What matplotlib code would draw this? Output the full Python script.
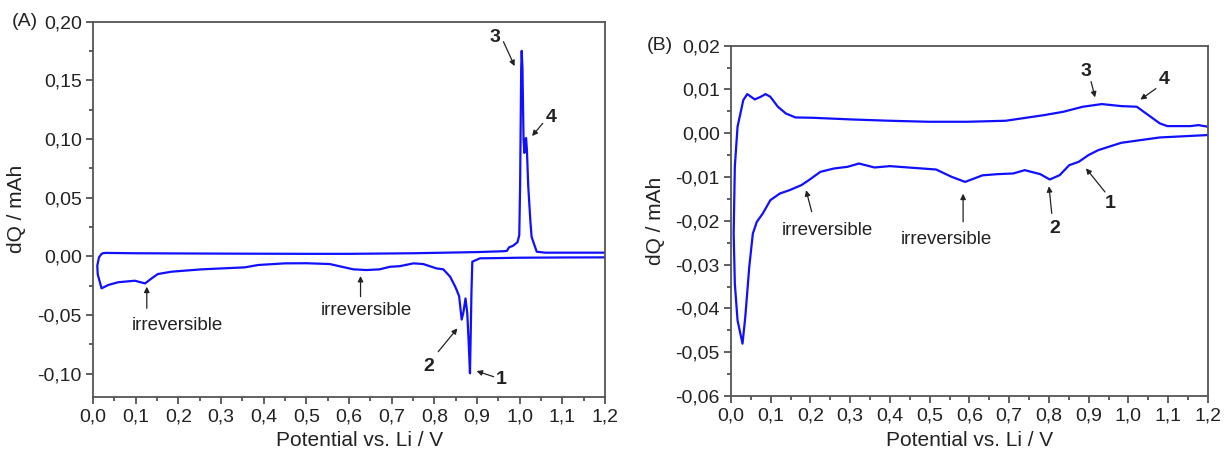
import matplotlib
matplotlib.use('Agg')
import matplotlib.pyplot as plt
from matplotlib.ticker import MultipleLocator, FuncFormatter

plt.rcParams['font.family'] = ['Liberation Sans', 'DejaVu Sans']

# panel A : discharge (1.2 V -> 0 V) then charge (0 V -> 1.2 V)
volt_a = [1.200, 1.100, 1.000, 0.950, 0.907, 0.889, 0.887, 0.8835, 0.880, 0.877, 0.873,
          0.868, 0.864, 0.858, 0.849, 0.837, 0.821, 0.805, 0.774, 0.751, 0.719, 0.696,
          0.672, 0.641, 0.610, 0.555, 0.500, 0.450, 0.387, 0.356, 0.255, 0.184, 0.152,
          0.137, 0.122, 0.098, 0.059, 0.036, 0.020, 0.011, 0.010, 0.014, 0.020, 0.024,
          0.030, 0.100, 0.300, 0.500, 0.600, 0.750, 0.900, 0.960, 0.970, 0.975, 0.985,
          0.995, 0.999, 1.001, 1.0035, 1.0047, 1.0065, 1.009, 1.011, 1.013, 1.015, 1.017,
          1.020, 1.025, 1.028, 1.034, 1.040, 1.060, 1.200]
dq_a = [-0.0010, -0.0011, -0.0013, -0.0016, -0.0018, -0.0047, -0.0300, -0.0998, -0.0700, -0.0480, -0.0360,
        -0.0480, -0.0540, -0.0340, -0.0260, -0.0175, -0.0112, -0.0104, -0.0067, -0.0061, -0.0085, -0.0090,
        -0.0112, -0.0118, -0.0112, -0.0067, -0.0060, -0.0061, -0.0075, -0.0095, -0.0112, -0.0132, -0.0152,
        -0.0190, -0.0232, -0.0209, -0.0222, -0.0245, -0.0274, -0.0155, -0.0080, -0.0010, 0.0020, 0.0026,
        0.0028, 0.0025, 0.0022, 0.0020, 0.0020, 0.0025, 0.0035, 0.0042, 0.0045, 0.0075, 0.0090,
        0.0120, 0.0180, 0.0600, 0.1600, 0.1750, 0.1600, 0.1000, 0.0880, 0.1000, 0.1007, 0.0900,
        0.0600, 0.0300, 0.0163, 0.0100, 0.0038, 0.0030, 0.0030]

# panel B
volt_b = [1.200, 1.079, 0.982, 0.924, 0.899, 0.875, 0.851, 0.827, 0.802, 0.778, 0.739,
          0.710, 0.671, 0.633, 0.589, 0.555, 0.516, 0.458, 0.400, 0.361, 0.322, 0.293,
          0.259, 0.225, 0.196, 0.177, 0.147, 0.123, 0.099, 0.080, 0.065, 0.055, 0.046,
          0.036, 0.029, 0.0165, 0.0097, 0.0068, 0.0097, 0.0165, 0.031, 0.041, 0.060,
          0.075, 0.087, 0.099, 0.118, 0.138, 0.162, 0.206, 0.303, 0.400, 0.497, 0.594,
          0.691, 0.788, 0.836, 0.885, 0.933, 0.982, 1.021, 1.050, 1.079, 1.098, 1.127,
          1.156, 1.176, 1.200]
dq_b = [-0.0004, -0.00095, -0.00217, -0.00385, -0.0050, -0.00651, -0.00728, -0.00956, -0.01055, -0.00933, -0.00842,
        -0.00918, -0.00933, -0.00960, -0.0111, -0.00994, -0.00827, -0.00789, -0.00750, -0.00781, -0.00690, -0.00766,
        -0.00804, -0.00880, -0.0107, -0.01185, -0.0130, -0.01375, -0.01528, -0.01832, -0.02023, -0.02290, -0.03051,
        -0.04194, -0.04804, -0.0427, -0.0343, -0.0229, -0.00766, 0.00149, 0.00758, 0.00895, 0.00773,
        0.00834, 0.00895, 0.00834, 0.00606, 0.00453, 0.00362, 0.00354, 0.00316, 0.00286, 0.00263, 0.00263,
        0.00286, 0.00415, 0.00491, 0.00606, 0.00667, 0.00621, 0.00606, 0.00415, 0.00225, 0.00164, 0.00164,
        0.00164, 0.00187, 0.00149]

# (label, text position, arrow start, arrow end, bold)
notes_a = [('3', (0.942, 0.1865), (0.962, 0.1828), (0.988, 0.162), True),
           ('4', (1.073, 0.118), (1.054, 0.1132), (1.029, 0.1024), True),
           ('2', (0.787, -0.0936), (0.809, -0.0814), (0.854, -0.0615), True),
           ('1', (0.957, -0.1055), (0.939, -0.1027), (0.899, -0.0979), True),
           ('irreversible', (0.197, -0.0587), (0.126, -0.0444), (0.126, -0.026), False),
           ('irreversible', (0.641, -0.0465), (0.627, -0.0345), (0.627, -0.0169), False)]
notes_b = [('3', (0.894, 0.0141), (0.906, 0.0118), (0.916, 0.0082), True),
           ('4', (1.090, 0.0122), (1.069, 0.0102), (1.030, 0.0077), True),
           ('1', (0.955, -0.0160), (0.941, -0.0134), (0.893, -0.0080), True),
           ('2', (0.815, -0.0218), (0.807, -0.0183), (0.800, -0.0121), True),
           ('irreversible', (0.242, -0.0223), (0.203, -0.0179), (0.189, -0.0130), False),
           ('irreversible', (0.543, -0.0243), (0.584, -0.0202), (0.584, -0.0138), False)]


def comma(fmt):
    return FuncFormatter(lambda v, pos: (fmt % v).replace('.', ',').replace('\u2212', '-'))


def style_axes(ax, ymin, ymax, ymaj, ymin_tick):
    ax.set_xlim(0, 1.2)
    ax.set_ylim(ymin, ymax)
    ax.xaxis.set_major_locator(MultipleLocator(0.1))
    ax.xaxis.set_minor_locator(MultipleLocator(0.05))
    ax.yaxis.set_major_locator(MultipleLocator(ymaj))
    ax.yaxis.set_minor_locator(MultipleLocator(ymin_tick))
    ax.xaxis.set_major_formatter(comma('%.1f'))
    ax.yaxis.set_major_formatter(comma('%.2f'))
    ax.tick_params(which='both', direction='out', top=False, right=False,
                   color='#444444', width=1.2, labelsize=14, labelcolor='#222222')
    ax.tick_params(which='major', length=5, pad=3)
    ax.tick_params(which='minor', length=3)
    for sp in ax.spines.values():
        sp.set_color('#555555')
        sp.set_linewidth(1.3)
    ax.set_xlabel('Potential vs. Li / V', fontsize=15, color='#222222')
    ax.set_ylabel('dQ / mAh', fontsize=15, color='#222222')


def add_notes(ax, notes):
    for label, txt, start, end, bold in notes:
        ax.text(txt[0], txt[1], label, ha='center', va='center',
                fontsize=14 if bold else 13.5, fontweight='bold' if bold else 'normal',
                color='#222222')
        ax.annotate('', xy=end, xytext=start,
                    arrowprops=dict(arrowstyle='-|>', color='#222222', lw=0.9,
                                    mutation_scale=8, shrinkA=0, shrinkB=0))


fig = plt.figure(figsize=(12.24, 4.49), dpi=100)

ax1 = fig.add_axes([0.0760, 0.1158, 0.4183, 0.8363])
ax1.plot(volt_a, dq_a, color='#1010ff', lw=1.6)
style_axes(ax1, -0.12, 0.20, 0.05, 0.025)
add_notes(ax1, notes_a)
ax1.yaxis.set_label_coords(-0.131, 0.5)
ax1.xaxis.set_label_coords(0.52, -0.117)
ax1.xaxis.label.set_va('center')

ax2 = fig.add_axes([0.5972, 0.1180, 0.3897, 0.7802])
ax2.plot(volt_b, dq_b, color='#1010ff', lw=1.6)
style_axes(ax2, -0.06, 0.02, 0.01, 0.005)
add_notes(ax2, notes_b)
ax2.yaxis.set_label_coords(-0.139, 0.5)
ax2.xaxis.set_label_coords(0.5, -0.128)
ax2.xaxis.label.set_va('center')

fig.text(0.0204, 0.952, '(A)', fontsize=14, ha='center', va='center', color='#222222')
fig.text(0.539, 0.898, '(B)', fontsize=14, ha='center', va='center', color='#222222')

fig.savefig('out.png', dpi=100)
